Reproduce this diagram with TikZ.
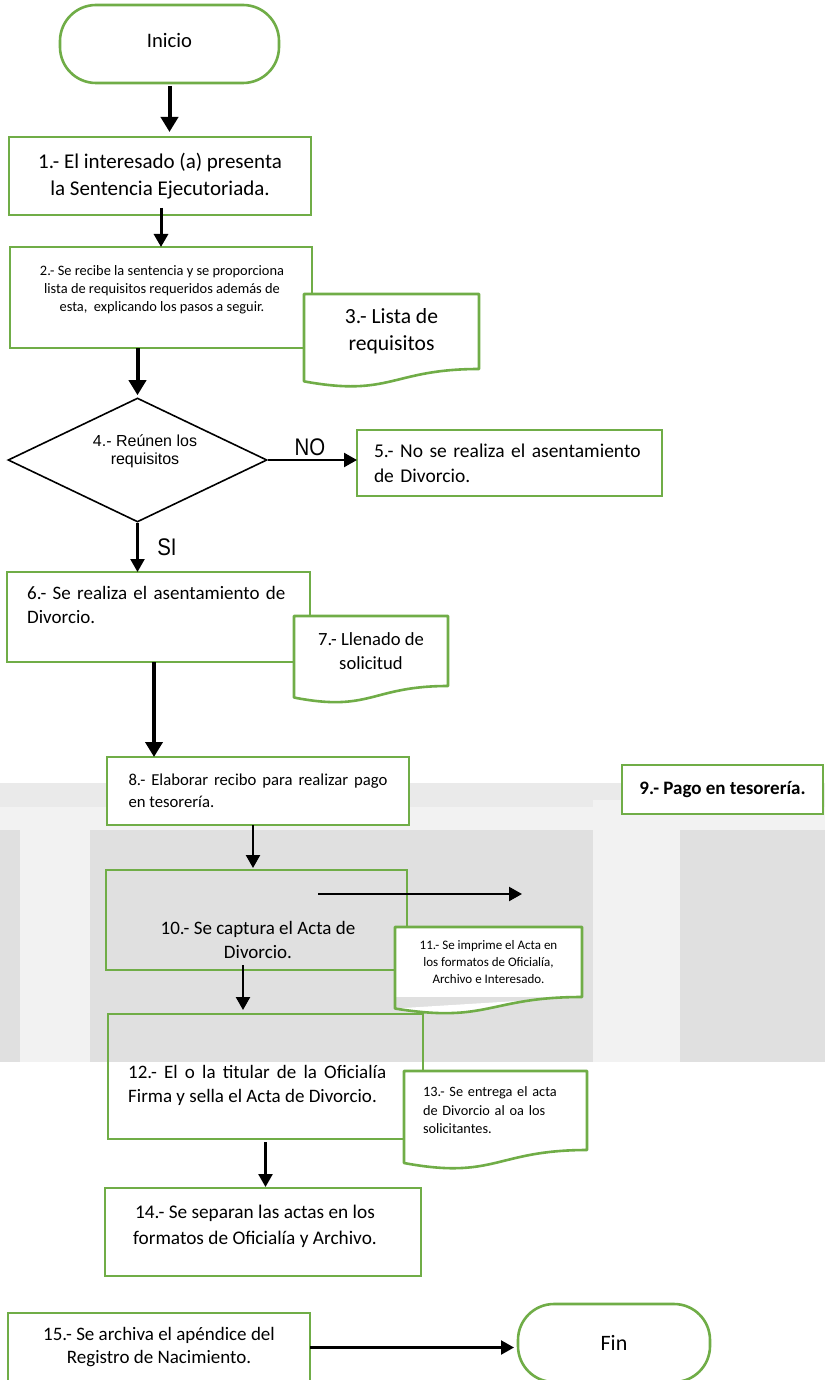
\documentclass[tikz,border=0pt]{standalone}
\usepackage{fontspec}
\setmainfont{Carlito}
\newfontfamily\arialfont{Liberation Sans}
\newfontfamily\arialnarrow[FakeStretch=0.85]{Liberation Sans}
\usetikzlibrary{shapes.geometric,arrows.meta,calc}
\definecolor{boxgreen}{HTML}{70AD47}
\definecolor{bgdark}{HTML}{E0E0E0}
\definecolor{bgmid}{HTML}{EAEAEA}
\definecolor{bglight}{HTML}{F2F2F2}
\newcommand\fsz[2]{\fontsize{#1}{#2}\selectfont}
% wavy "document" outline around a node; #2 is the height of its upper part
\newcommand\docoutline[2]{%
  \fill[white] (#1.south east) .. controls (#1.south) and ($(#1.south)+(0,0.380*#2)$) .. ($(#1.south west)+(0,0.1646*#2)$) -- cycle;
  \draw[boxgreen, line width=2.6pt, line join=round] (#1.north west) -- (#1.north east) -- (#1.south east) .. controls (#1.south) and ($(#1.south)+(0,0.380*#2)$) .. ($(#1.south west)+(0,0.1646*#2)$) -- cycle;}
\begin{document}
\begin{tikzpicture}[x=1pt,y=-1pt,
  procbox/.style={draw=boxgreen, line width=2.6pt, inner sep=0pt, outer sep=0pt, fill=white},
  clearbox/.style={procbox, fill=none},
  terminal/.style={procbox, rounded corners=36pt},
  docbox/.style={fill=white, inner sep=0pt, outer sep=0pt},
  txt/.style={inner sep=0pt, text=black},
  heavyarrow/.style={line width=4pt, -{Triangle[width=17pt,length=15pt]}},
  lightarrow/.style={line width=2.3pt, -{Triangle[width=14pt,length=13pt]}}]
\useasboundingbox (0,0) rectangle (825,1380);
% backdrop
\fill[white] (0,0) rectangle (825,1380);
\fill[bgmid] (0,783) rectangle (825,807);
\fill[bglight] (0,807) rectangle (825,830);
\fill[bgdark] (0,830) rectangle (825,1062);
\fill[bglight] (20,807) rectangle (90,1062);
\fill[bglight] (593,800) rectangle (680,1062);

% start
\node[terminal, minimum width=219, minimum height=78] (ini) at (169.5,44) {};
\node[txt, font=\fsz{20.6}{25}] (tini) at (169.5,40) {Inicio};

% 1
\node[procbox, minimum width=302, minimum height=78, align=center, font=\fsz{21}{27}] (b1) at (160,176)
  {1.- El interesado (a) presenta\\la Sentencia Ejecutoriada.};
\draw[heavyarrow, shorten <=3pt, shorten >=5pt] (ini.south) -- (ini.south |- b1.north);

% 2 and 3
\node[procbox, minimum width=302, minimum height=101] (b2) at (161,297.5) {};
\node[txt, align=center, font=\fsz{14.4}{18}] (t2) at (162,290)
  {2.- Se recibe la sentencia y se proporciona\\lista de requisitos requeridos además de\\esta,\ \ explicando los pasos a seguir.};
\draw[lightarrow, line width=3pt, shorten <=-7pt] (b1.south -| b2.north) -- (b2.north);
\node[docbox, minimum width=175, minimum height=75, align=center, font=\fsz{21.6}{27}] (b3) at (391.5,331.5)
  {3.- Lista de\\requisitos};
\docoutline{b3}{75}

% 4 decision
\node[diamond, draw=black, line width=1.6pt, fill=white, minimum width=259, minimum height=124, inner sep=0pt] (d4) at (137.5,460) {};
\node[txt, align=center, font=\arialfont\fsz{16}{18}] (t4) at (145,451) {4.- Reúnen los\\requisitos};
\draw[heavyarrow, shorten >=2pt] (b2.south -| d4.north) -- (d4.north);

% 5 (NO)
\node[procbox, minimum width=305, minimum height=66, text width=271, align=left, font=\fsz{19.5}{25}] (b5) at (509.5,463)
  {5.- No se realiza el asentamiento\\de Divorcio.};
\draw[lightarrow] (d4.east) -- (d4.east -| b5.west);
\node[txt, font=\arialnarrow\fsz{24}{24}] (lno) at (310,447) {NO};

% 6 (SI) and 7
\node[procbox, minimum width=303, minimum height=90] (b6) at (158.5,617) {};
\node[txt, anchor=west, text width=263, align=left, font=\fsz{19}{24}] (t6) at (27,605)
  {6.- Se realiza el asentamiento de\\Divorcio.};
\draw[lightarrow] (d4.south) -- (d4.south |- b6.north);
\node[txt, font=\arialnarrow\fsz{24}{24}] (lsi) at (167,547) {SI};
\node[docbox, minimum width=154, minimum height=70, align=center, font=\fsz{18.6}{24}] (b7) at (371,651)
  {7.- Llenado de\\solicitud};
\docoutline{b7}{70}

% 8 and 9
\node[procbox, minimum width=302, minimum height=68, text width=259, align=justify, font=\fsz{16.7}{22}] (b8) at (258,791)
  {8.- Elaborar recibo para realizar pago\linebreak en tesorería.};
\draw[heavyarrow] ([xshift=-4.5pt]b6.south) -- ([xshift=-4.5pt]b6.south |- b8.north);
\node[procbox, minimum width=201, minimum height=49, font=\bfseries\fsz{19}{22}] (b9) at (722.5,789.5)
  {9.- Pago en tesorería.};

% 10 and 11
\node[clearbox, minimum width=301, minimum height=100] (b10) at (256.5,920) {};
\node[txt, align=center, font=\fsz{19}{24}] (t10) at (258,940) {10.- Se captura el Acta de\\Divorcio.};
\draw[lightarrow, shorten >=2pt] ([xshift=-5pt]b8.south) -- ([xshift=-5pt]b8.south |- b10.north);
\coordinate (c10a) at (318,894);
\coordinate (c10b) at (522,894);
\draw[lightarrow] (c10a) -- (c10b);
\node[docbox, minimum width=187, minimum height=70, align=center, font=\fsz{13}{17}] (b11) at (488.5,962)
  {11.- Se imprime el Acta en\\los formatos de Oficialía,\\Archivo e Interesado.};
\docoutline{b11}{70}

% 12 and 13
\node[clearbox, minimum width=315, minimum height=125] (b12) at (265.5,1076.5) {};
\node[txt, anchor=west, text width=258, align=justify, font=\fsz{19}{24}] (t12) at (128,1085)
  {12.- El o la titular de la Oficialía\linebreak Firma y sella el Acta de Divorcio.};
\draw[lightarrow, shorten <=-5pt, shorten >=4pt] ([xshift=-13.5pt]b10.south) -- ([xshift=-13.5pt]b10.south |- b12.north);
\node[docbox, minimum width=183, minimum height=79, text width=145, align=left, font=\fsz{14.3}{18.5}] (b13) at (495.5,1110.5)
  {13.- Se entrega el acta\\de Divorcio al oa los\\solicitantes.};
\docoutline{b13}{79}

% 14
\node[clearbox, minimum width=316, minimum height=88] (b14) at (263,1232) {};
\node[txt, align=center, font=\fsz{19.3}{26}] (t14) at (255,1226)
  {14.- Se separan las actas en los\\formatos de Oficialía y Archivo.};
\draw[lightarrow, line width=2.6pt, shorten <=3pt, shorten >=1pt] (b12.south) -- (b12.south |- b14.north);

% 15 and end
\node[procbox, minimum width=302, minimum height=69, align=center, font=\fsz{19}{23}] (b15) at (159,1347.5)
  {15.- Se archiva el apéndice del\\Registro de Nacimiento.};
\node[terminal, minimum width=192, minimum height=78, font=\fsz{22}{26}] (fin) at (614,1343) {Fin};
\draw[lightarrow, shorten >=4pt] (b15.east) -- (b15.east -| fin.west);
\end{tikzpicture}
\end{document}
